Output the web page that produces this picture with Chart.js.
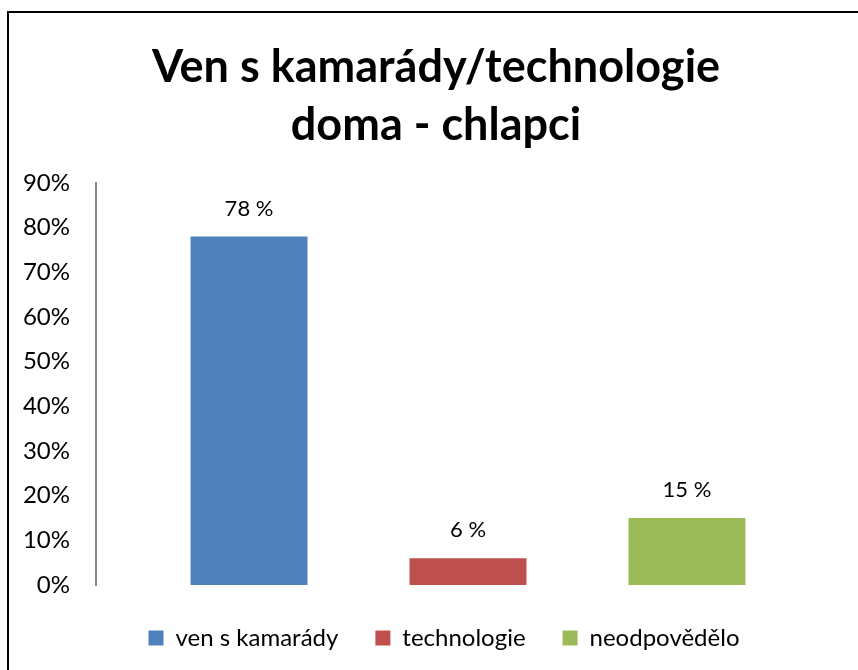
<!DOCTYPE html>
<html><head><meta charset="utf-8">
<script src="https://cdn.jsdelivr.net/npm/chart.js@4.4.1/dist/chart.umd.min.js"></script>
<style>html,body{margin:0;padding:0;background:#fff}#wrap{width:858px;height:670px;position:relative}</style>
</head><body><div id="wrap"><canvas id="c" width="858" height="670"></canvas></div>
<script>
const titleLines = ['Ven s kamarády/technologie', 'doma - chlapci'];
const seriesNames = ['ven s kamarády', 'technologie', 'neodpovědělo'];
const seriesValues = [78, 6, 15];
const seriesColors = ['#4F81BD', '#C0504D', '#9BBB59'];
const yTicks = [0, 10, 20, 30, 40, 50, 60, 70, 80, 90];
const FONT = 'Lato, "Liberation Sans", sans-serif';

const frame = {
  id: 'frame',
  beforeDraw(chart) {
    const ctx = chart.ctx;
    ctx.save();
    ctx.fillStyle = '#fff';
    ctx.fillRect(0, 0, chart.width, chart.height);
    ctx.strokeStyle = '#000';
    ctx.lineWidth = 2;
    ctx.strokeRect(8, 12, chart.width + 20, chart.height + 20);
    ctx.restore();
  },
  afterLayout(chart) {
    if (chart.legend) { chart.legend.left += 24; chart.legend.right += 24; }
  },
  afterDraw(chart) {
    const ctx = chart.ctx;
    ctx.save();
    ctx.fillStyle = '#000';
    ctx.font = 'bold 45px ' + FONT;
    ctx.textAlign = 'center';
    ctx.textBaseline = 'alphabetic';
    ctx.fillText(titleLines[0], 436, 82);
    ctx.fillText(titleLines[1], 436, 140);
    ctx.restore();
  }
};

const valueLabels = {
  id: 'valueLabels',
  afterDatasetsDraw(chart) {
    const ctx = chart.ctx;
    ctx.save();
    ctx.fillStyle = '#000';
    ctx.font = '22px ' + FONT;
    ctx.textAlign = 'center';
    ctx.textBaseline = 'alphabetic';
    chart.data.datasets.forEach((ds, i) => {
      const el = chart.getDatasetMeta(i).data[0];
      ctx.fillText(ds.data[0] + ' %', el.x, el.y - 21);
    });
    ctx.restore();
  }
};

new Chart(document.getElementById('c'), {
  type: 'bar',
  data: {
    labels: [''],
    datasets: seriesNames.map((n, i) => ({
      label: n,
      data: [seriesValues[i]],
      backgroundColor: seriesColors[i],
      borderWidth: 0,
      categoryPercentage: 0.883,
      barPercentage: 0.534
    }))
  },
  options: {
    responsive: false,
    animation: false,
    layout: { padding: { top: 183, right: 18, bottom: 10, left: 0 } },
    plugins: {
      title: { display: false },
      tooltip: { enabled: false },
      legend: {
        position: 'bottom',
        labels: {
          boxWidth: 15, boxHeight: 15, padding: 37, color: '#000',
          font: { family: FONT, size: 24 }
        }
      }
    },
    scales: {
      x: {
        display: true,
        afterFit(s) { s.height = 4; },
        grid: { display: false, drawTicks: false },
        border: { display: false },
        ticks: { display: false }
      },
      y: {
        min: 0, max: 90,
        afterFit(s) { s.width = 96; },
        afterBuildTicks(s) { s.ticks = yTicks.map(v => ({ value: v })); },
        grid: { display: false, drawTicks: false },
        border: { display: true, color: '#868686', width: 2 },
        ticks: {
          padding: 26, color: '#000',
          font: { family: FONT, size: 24 },
          callback: v => v + '%'
        }
      }
    }
  },
  plugins: [frame, valueLabels]
});
</script></body></html>
